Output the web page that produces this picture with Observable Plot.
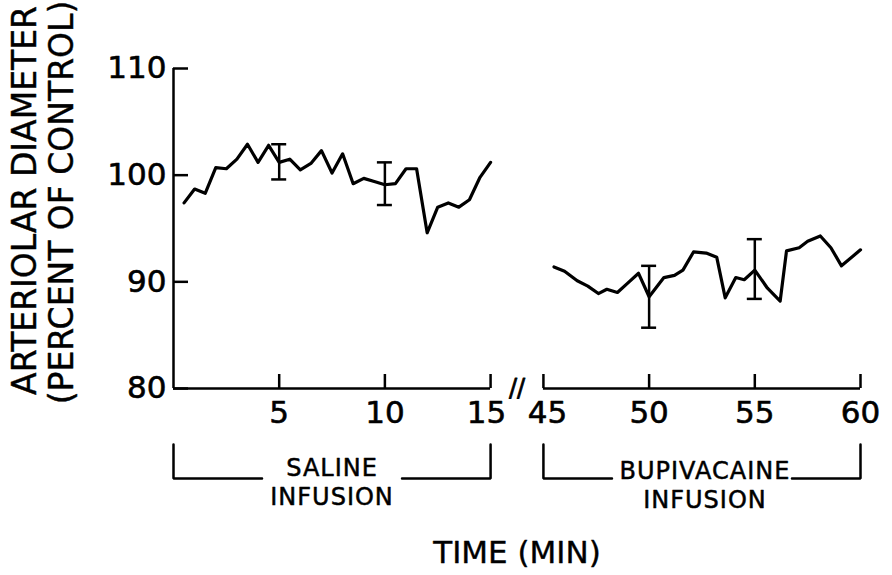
<!DOCTYPE html>
<html>
<head>
<meta charset="utf-8">
<script src="https://cdn.jsdelivr.net/npm/d3@7"></script>
<script src="https://cdn.jsdelivr.net/npm/@observablehq/plot@0.6"></script>
<style>
  html, body { margin: 0; padding: 0; background: #fff; }
</style>
</head>
<body>
<div id="chart"></div>
<script>
// ---- Data ----
const salineTime = [0.5, 1, 1.5, 2, 2.5, 3, 3.5, 4, 4.5, 5, 5.5, 6, 6.5, 7, 7.5, 8, 8.5, 9, 9.5, 10, 10.5, 11, 11.5, 12, 12.5, 13, 13.5, 14, 14.5, 15];
const salineDiameter = [97.4, 98.7, 98.3, 100.7, 100.6, 101.5, 102.9, 101.2, 102.8, 101.2, 101.5, 100.5, 101.1, 102.3, 100.2, 102.0, 99.2, 99.7, 99.4, 99.1, 99.2, 100.6, 100.6, 94.6, 97.0, 97.4, 97.0, 97.7, 99.8, 101.2];

const bupiTime = [45.5, 46.0, 46.6, 47.1, 47.6, 48.0, 48.5, 49.0, 49.5, 50.0, 50.7, 51.2, 51.6, 52.1, 52.7, 53.2, 53.6, 54.1, 54.5, 55.0, 55.6, 56.2, 56.5, 57.1, 57.5, 58.1, 58.6, 59.1, 60.0];
const bupiDiameter = [91.4, 91.0, 90.1, 89.6, 88.9, 89.3, 89.0, 89.9, 90.8, 88.6, 90.4, 90.6, 91.1, 92.8, 92.7, 92.3, 88.5, 90.4, 90.2, 91.1, 89.4, 88.2, 92.9, 93.2, 93.8, 94.3, 93.2, 91.5, 93.0];

const errTime = [5, 10, 50, 55];
const errLow  = [99.6, 97.2, 85.7, 88.4];
const errHigh = [102.9, 101.2, 91.5, 94.0];

const yTicks = [80, 90, 100, 110];
const xTicksSaline = [5, 10, 15];
const xTicksBupi = [45, 50, 55, 60];
const salineRange = [0, 15];
const bupiRange = [45, 60];
const bracketLabels = ["SALINE\nINFUSION", "BUPIVACAINE\nINFUSION"];

const yTitle = ["ARTERIOLAR DIAMETER", "(PERCENT OF CONTROL)"];
const xTitle = "TIME (MIN)";

// ---- Broken-axis mapping ----
const breakGap = 2.5; // display units between the two segments
const disp = t => t <= salineRange[1] ? t : t - bupiRange[0] + salineRange[1] + breakGap;
const xDomain = [disp(salineRange[0]), disp(bupiRange[1])];
const yDomain = [80, 110];

const W = 892, H = 575;
const mL = 173, mR = 32, mT = 68, mB = 187;
const pxX = px => px * (xDomain[1] - xDomain[0]) / (W - mL - mR);
const pxY = px => px * (yDomain[1] - yDomain[0]) / (H - mT - mB);

const salineData = salineTime.map((t, i) => ({x: disp(t), y: salineDiameter[i]}));
const bupiData = bupiTime.map((t, i) => ({x: disp(t), y: bupiDiameter[i]}));
const errData = errTime.map((t, i) => ({x: disp(t), lo: errLow[i], hi: errHigh[i]}));

const segments = [salineRange, bupiRange].map(([a, b]) => ({x1: disp(a), x2: disp(b)}));
const yBase = yDomain[0];
const xTickData = [...xTicksSaline, ...xTicksBupi].map(t => ({
  x: disp(t), label: String(t),
  lx: disp(t) + pxX(t === salineRange[1] ? -4 : t === bupiRange[0] ? 4 : 0)
}));
const breakX = (disp(salineRange[1]) + disp(bupiRange[0])) / 2;

// Brackets below the axis
const bracketGapPx = [70, 90];
const bTop = yBase - pxY(56), bBot = yBase - pxY(90);
const bracketPieces = [];
const bracketText = [];
segments.forEach((s, i) => {
  const m = (s.x1 + s.x2) / 2, hg = pxX(bracketGapPx[i]);
  bracketPieces.push(
    {z: i * 2, x: s.x1, y: bTop}, {z: i * 2, x: s.x1, y: bBot}, {z: i * 2, x: m - hg, y: bBot},
    {z: i * 2 + 1, x: m + hg, y: bBot}, {z: i * 2 + 1, x: s.x2, y: bBot}, {z: i * 2 + 1, x: s.x2, y: bTop}
  );
  const shift = pxX(i === 1 ? 3 : 0);
  bracketText.push({x: m + shift, y: yBase - pxY(93 + i * 3), text: bracketLabels[i]});
});

const font = "'DejaVu Sans', 'Liberation Sans', sans-serif";

const chart = Plot.plot({
  width: W, height: H,
  marginLeft: mL, marginRight: mR, marginTop: mT, marginBottom: mB,
  x: {domain: xDomain, axis: null},
  y: {domain: yDomain, axis: null},
  style: {background: "#fff", color: "#000", fontFamily: font},
  marks: [
    // y axis
    Plot.ruleX([xDomain[0]], {y1: yDomain[0], y2: yDomain[1], stroke: "#000", strokeWidth: 2.5}),
    Plot.ruleY(yTicks, {y: d => d, x1: xDomain[0], x2: xDomain[0] + pxX(15), stroke: "#000", strokeWidth: 2.5}),
    Plot.text(yTicks, {x: xDomain[0], y: d => d, text: d => String(d), textAnchor: "end", dx: -7,
      fontSize: 31, fill: "#000", stroke: "#000", strokeWidth: 0.6}),
    // x axis segments
    Plot.ruleY(segments, {y: yBase, x1: "x1", x2: "x2", stroke: "#000", strokeWidth: 2.5}),
    Plot.ruleX(xTickData, {x: "x", y1: yBase, y2: yBase + pxY(14), stroke: "#000", strokeWidth: 2.5}),
    Plot.text(xTickData, {x: "lx", y: yBase, text: "label", dy: 25, fontSize: 31,
      fill: "#000", stroke: "#000", strokeWidth: 0.6}),
    Plot.text([breakX], {x: d => d, y: yBase, text: () => "//", fontSize: 24, fill: "#000",
      stroke: "#000", strokeWidth: 0.8}),
    // data lines
    Plot.line(salineData, {x: "x", y: "y", stroke: "#000", strokeWidth: 3.2}),
    Plot.line(bupiData, {x: "x", y: "y", stroke: "#000", strokeWidth: 3.2}),
    // error bars
    Plot.ruleX(errData, {x: "x", y1: "lo", y2: "hi", stroke: "#000", strokeWidth: 2.5}),
    Plot.ruleY(errData, {y: "lo", x1: d => d.x - pxX(7.5), x2: d => d.x + pxX(7.5), stroke: "#000", strokeWidth: 2.5}),
    Plot.ruleY(errData, {y: "hi", x1: d => d.x - pxX(7.5), x2: d => d.x + pxX(7.5), stroke: "#000", strokeWidth: 2.5}),
    // brackets
    Plot.line(bracketPieces, {x: "x", y: "y", z: "z", stroke: "#000", strokeWidth: 2.5, strokeLinejoin: "miter"}),
    Plot.text(bracketText, {x: "x", y: "y", text: "text", fontSize: 24, lineHeight: 1.17, lineAnchor: "middle",
      fill: "#000", stroke: "#000", strokeWidth: 0.5, title: null}),
    // titles
    Plot.text([yTitle[0]], {text: d => d, frameAnchor: "left", textAnchor: "middle", rotate: -90, dx: -148, dy: -28,
      fontSize: 33, fill: "#000", stroke: "#000", strokeWidth: 0.4, lineAnchor: "middle"}),
    Plot.text([yTitle[1]], {text: d => d, frameAnchor: "left", textAnchor: "middle", rotate: -90, dx: -111, dy: -26,
      fontSize: 33, fill: "#000", stroke: "#000", strokeWidth: 0.4, lineAnchor: "middle"}),
    Plot.text([xTitle], {text: d => d, frameAnchor: "bottom", textAnchor: "middle", dy: 165, lineAnchor: "middle",
      fontSize: 31, fill: "#000", stroke: "#000", strokeWidth: 0.4})
  ]
});
// slightly widen the lettering of the infusion labels, as in the hand-lettered original
d3.select(chart).selectAll("text").filter(function () {
  return /INFUSION/.test(this.textContent);
}).style("letter-spacing", "1px");
document.getElementById("chart").appendChild(chart);
</script>
</body>
</html>
